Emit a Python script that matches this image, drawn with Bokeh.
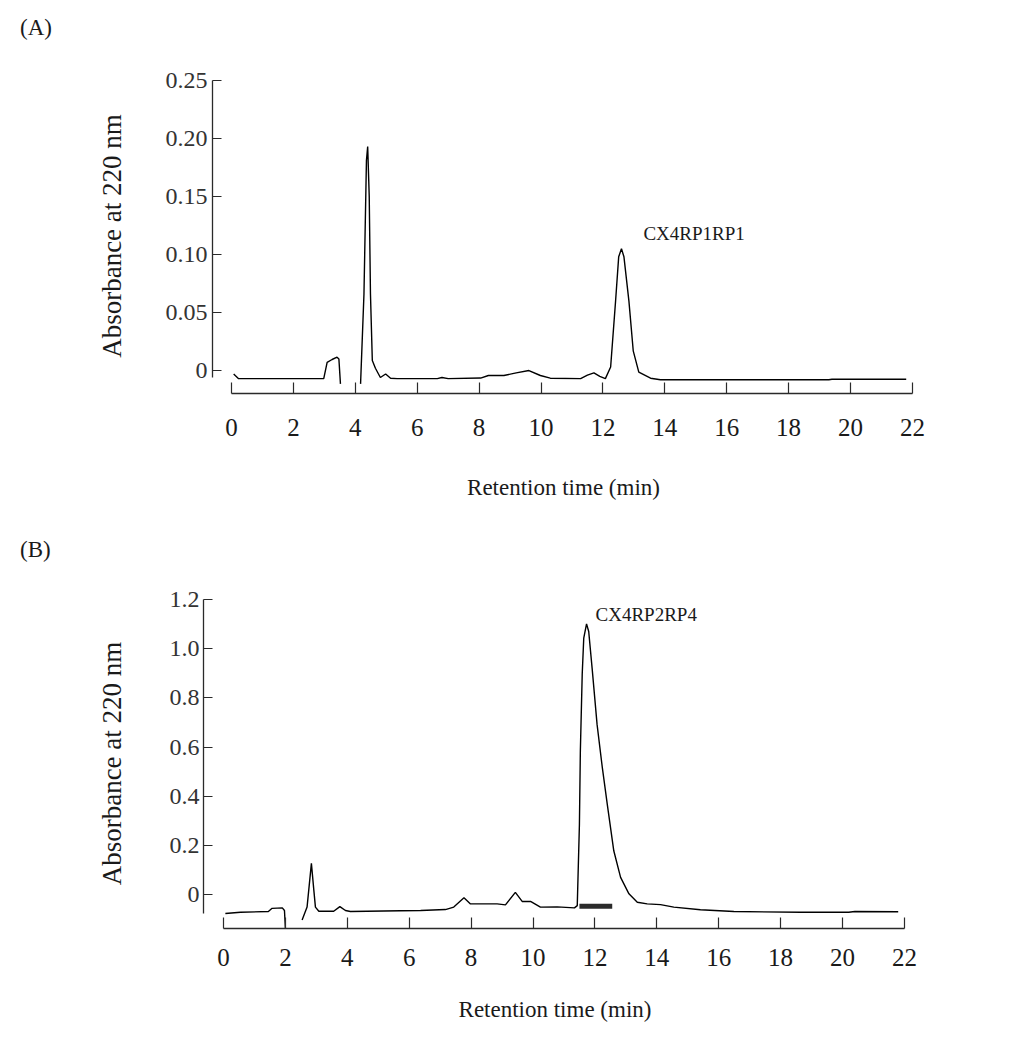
import math
from bokeh.plotting import figure
from bokeh.models import Range1d, FixedTicker, Div
from bokeh.layouts import column, row
from bokeh.core.properties import value
from bokeh.embed import file_html
from bokeh.resources import INLINE

NaN = float("nan")

# ---------------- data ----------------
# Panel A chromatogram (retention time in min, absorbance)
a_time = [0.07, 0.23, 2.66, 2.98, 3.09, 3.25, 3.41, 3.47, 3.52, NaN,
          4.17, 4.28, 4.36, 4.40, 4.45, 4.49, 4.55, 4.65, 4.81, 4.98,
          5.14, 5.35, 6.65, 6.80, 7.00, 8.05, 8.30, 8.80, 9.20, 9.61,
          9.98, 10.30, 11.28, 11.50, 11.71, 11.90, 12.08, 12.25, 12.41, 12.51,
          12.60, 12.68, 12.84, 12.98, 13.16, 13.54, 13.86, 19.30, 19.40, 21.80]
a_abs = [-0.003, -0.007, -0.007, -0.007, 0.007, 0.0095, 0.0115, 0.010, -0.0115, NaN,
         -0.0115, 0.066, 0.181, 0.193, 0.150, 0.066, 0.0086, 0.002, -0.006, -0.003,
         -0.0066, -0.007, -0.007, -0.006, -0.007, -0.0065, -0.0043, -0.0043, -0.002, 0.000,
         -0.0043, -0.0066, -0.007, -0.004, -0.002, -0.005, -0.007, 0.003, 0.060, 0.098,
         0.105, 0.098, 0.060, 0.017, -0.0014, -0.0066, -0.008, -0.008, -0.0075, -0.0075]
a_peak_name = "CX4RP1RP1"
a_peak_pos = (13.31, 0.118)

# Panel B chromatogram
b_time = [0.06, 0.55, 1.45, 1.57, 1.90, 1.97, 2.00, NaN,
          2.54, 2.70, 2.84, 2.92, 2.97, 3.08, 3.56, 3.76, 3.94, 4.10,
          5.72, 6.37, 7.17, 7.44, 7.77, 7.98, 8.84, 9.11, 9.43, 9.65,
          9.92, 10.24, 10.78, 11.34, 11.43, 11.50, 11.53, 11.59, 11.64, 11.73,
          11.80, 11.91, 12.07, 12.24, 12.40, 12.61, 12.83, 13.10, 13.37, 13.69,
          14.12, 14.55, 15.41, 16.49, 18.64, 20.20, 20.40, 21.80]
b_abs = [-0.077, -0.072, -0.069, -0.056, -0.054, -0.065, -0.138, NaN,
         -0.103, -0.051, 0.127, 0.016, -0.051, -0.068, -0.068, -0.049, -0.065, -0.069,
         -0.066, -0.065, -0.061, -0.051, -0.013, -0.038, -0.038, -0.042, 0.009, -0.028,
         -0.028, -0.051, -0.050, -0.054, -0.045, 0.286, 0.584, 0.895, 1.043, 1.101,
         1.070, 0.921, 0.692, 0.516, 0.367, 0.178, 0.070, 0.003, -0.031, -0.038,
         -0.041, -0.051, -0.062, -0.069, -0.072, -0.072, -0.069, -0.070]
b_peak_name = "CX4RP2RP4"
b_peak_pos = (12.02, 1.139)
# collected fraction (min)
b_fraction_start = [11.50]
b_fraction_end = [12.56]
b_fraction_level = [-0.048]

# ticks
x_ticks = [0, 2, 4, 6, 8, 10, 12, 14, 16, 18, 20, 22]
a_y_ticks = [0, 0.05, 0.1, 0.15, 0.2, 0.25]
a_y_labels = ["0", "0.05", "0.10", "0.15", "0.20", "0.25"]
b_y_ticks = [0, 0.2, 0.4, 0.6, 0.8, 1.0, 1.2]
b_y_labels = ["0", "0.2", "0.4", "0.6", "0.8", "1.0", "1.2"]

x_title = "Retention time (min)"
y_title = "Absorbance at 220 nm"

SERIF = "Liberation Serif"
AXIS_COLOR = "#2a2a2a"
TEXT_COLOR = "#1a1a1a"
PX_PER_MIN = 30.95
TAG_H = 50          # height of the strip that carries the panel tag
PANEL_H = 519       # height of each panel including its tag strip


def tag_div(tag, pad_top):
    html = ('<div style="padding:%dpx 0 0 20px; margin:0; font-family:\'Liberation Serif\', serif; '
            'font-size:23px; line-height:26px; color:%s;">%s</div>' % (pad_top, TEXT_COLOR, tag))
    return Div(text=html, width=1032, height=TAG_H, margin=(0, 0, 0, 0))


def panel(t, a, peak_name, peak_pos, y_ticks, y_labels, x_zero_px, y_range,
          y_bounds, borders, x_std, x_ax_std, y_std, y_ax_std):
    left, right, top, bottom = borders
    x_start = (left - x_zero_px) / PX_PER_MIN
    x_end = (1032 - right - x_zero_px) / PX_PER_MIN
    p = figure(width=1032, height=PANEL_H - TAG_H, output_backend="svg", toolbar_location=None,
               x_range=Range1d(x_start, x_end), y_range=Range1d(*y_range),
               min_border_left=left, min_border_right=right,
               min_border_top=top - TAG_H, min_border_bottom=bottom,
               margin=(0, 0, 0, 0))
    p.outline_line_color = None
    p.grid.visible = False
    p.background_fill_color = "white"
    p.border_fill_color = "white"

    p.line(t, a, line_color="black", line_width=1.4)

    # axes
    xa = p.xaxis[0]
    xa.ticker = FixedTicker(ticks=x_ticks)
    xa.bounds = (x_ticks[0], x_ticks[-1])
    xa.major_tick_in = 11
    xa.major_tick_out = 0
    xa.minor_tick_line_color = None
    xa.axis_line_width = 1.6
    xa.axis_line_color = AXIS_COLOR
    xa.major_tick_line_color = AXIS_COLOR
    xa.major_tick_line_width = 1.2
    xa.major_label_text_font = SERIF
    xa.major_label_text_font_size = "25px"
    xa.major_label_text_color = TEXT_COLOR
    xa.major_label_standoff = x_std
    xa.axis_label = x_title
    xa.axis_label_text_font = SERIF
    xa.axis_label_text_font_size = "23px"
    xa.axis_label_text_font_style = "normal"
    xa.axis_label_text_color = TEXT_COLOR
    xa.axis_label_standoff = x_ax_std

    ya = p.yaxis[0]
    ya.ticker = FixedTicker(ticks=y_ticks)
    ya.major_label_overrides = {tv: lab for tv, lab in zip(y_ticks, y_labels)}
    ya.bounds = y_bounds
    ya.major_tick_in = 9
    ya.major_tick_out = 0
    ya.minor_tick_line_color = None
    ya.axis_line_width = 1.3
    ya.axis_line_color = AXIS_COLOR
    ya.major_tick_line_color = AXIS_COLOR
    ya.major_tick_line_width = 1.2
    ya.major_label_text_font = SERIF
    ya.major_label_text_font_size = "24px"
    ya.major_label_text_color = "#333333"
    ya.major_label_standoff = y_std
    ya.axis_label = y_title
    ya.axis_label_text_font = SERIF
    ya.axis_label_text_font_size = "27px"
    ya.axis_label_text_font_style = "normal"
    ya.axis_label_text_color = TEXT_COLOR
    ya.axis_label_standoff = y_ax_std

    p.text(x=[peak_pos[0]], y=[peak_pos[1]], text=[peak_name],
           text_font=value(SERIF), text_font_size="19px", text_color=TEXT_COLOR,
           text_baseline="middle", text_align="left")
    return p


# Panel A: x 0 -> 231px, 30.95 px/min, y axis at 212; y 0 -> 370px, 1160 px/unit
pA = panel(a_time, a_abs, a_peak_name, a_peak_pos, a_y_ticks, a_y_labels,
           x_zero_px=231, y_range=(-0.0198, 0.2517), y_bounds=(-0.006, 0.25),
           borders=(212, 118, 78, 126), x_std=25, x_ax_std=36, y_std=5, y_ax_std=36)

# Panel B: x 0 -> 223px, y axis at 203; y 0 -> 894px(abs), 246.7 px/unit
pB = panel(b_time, b_abs, b_peak_name, b_peak_pos, b_y_ticks, b_y_labels,
           x_zero_px=223, y_range=(-0.138, 1.204), y_bounds=(-0.077, 1.2),
           borders=(203, 126, 79, 110), x_std=20, x_ax_std=28, y_std=4, y_ax_std=40)
pB.segment(x0=b_fraction_start, x1=b_fraction_end, y0=b_fraction_level, y1=b_fraction_level,
           line_color="#2b2b2b", line_width=5)

layout = column(tag_div("(A)", 15), row(pA), tag_div("(B)", 18), row(pB), spacing=0)
open("out.html", "w").write(file_html(layout, INLINE))
